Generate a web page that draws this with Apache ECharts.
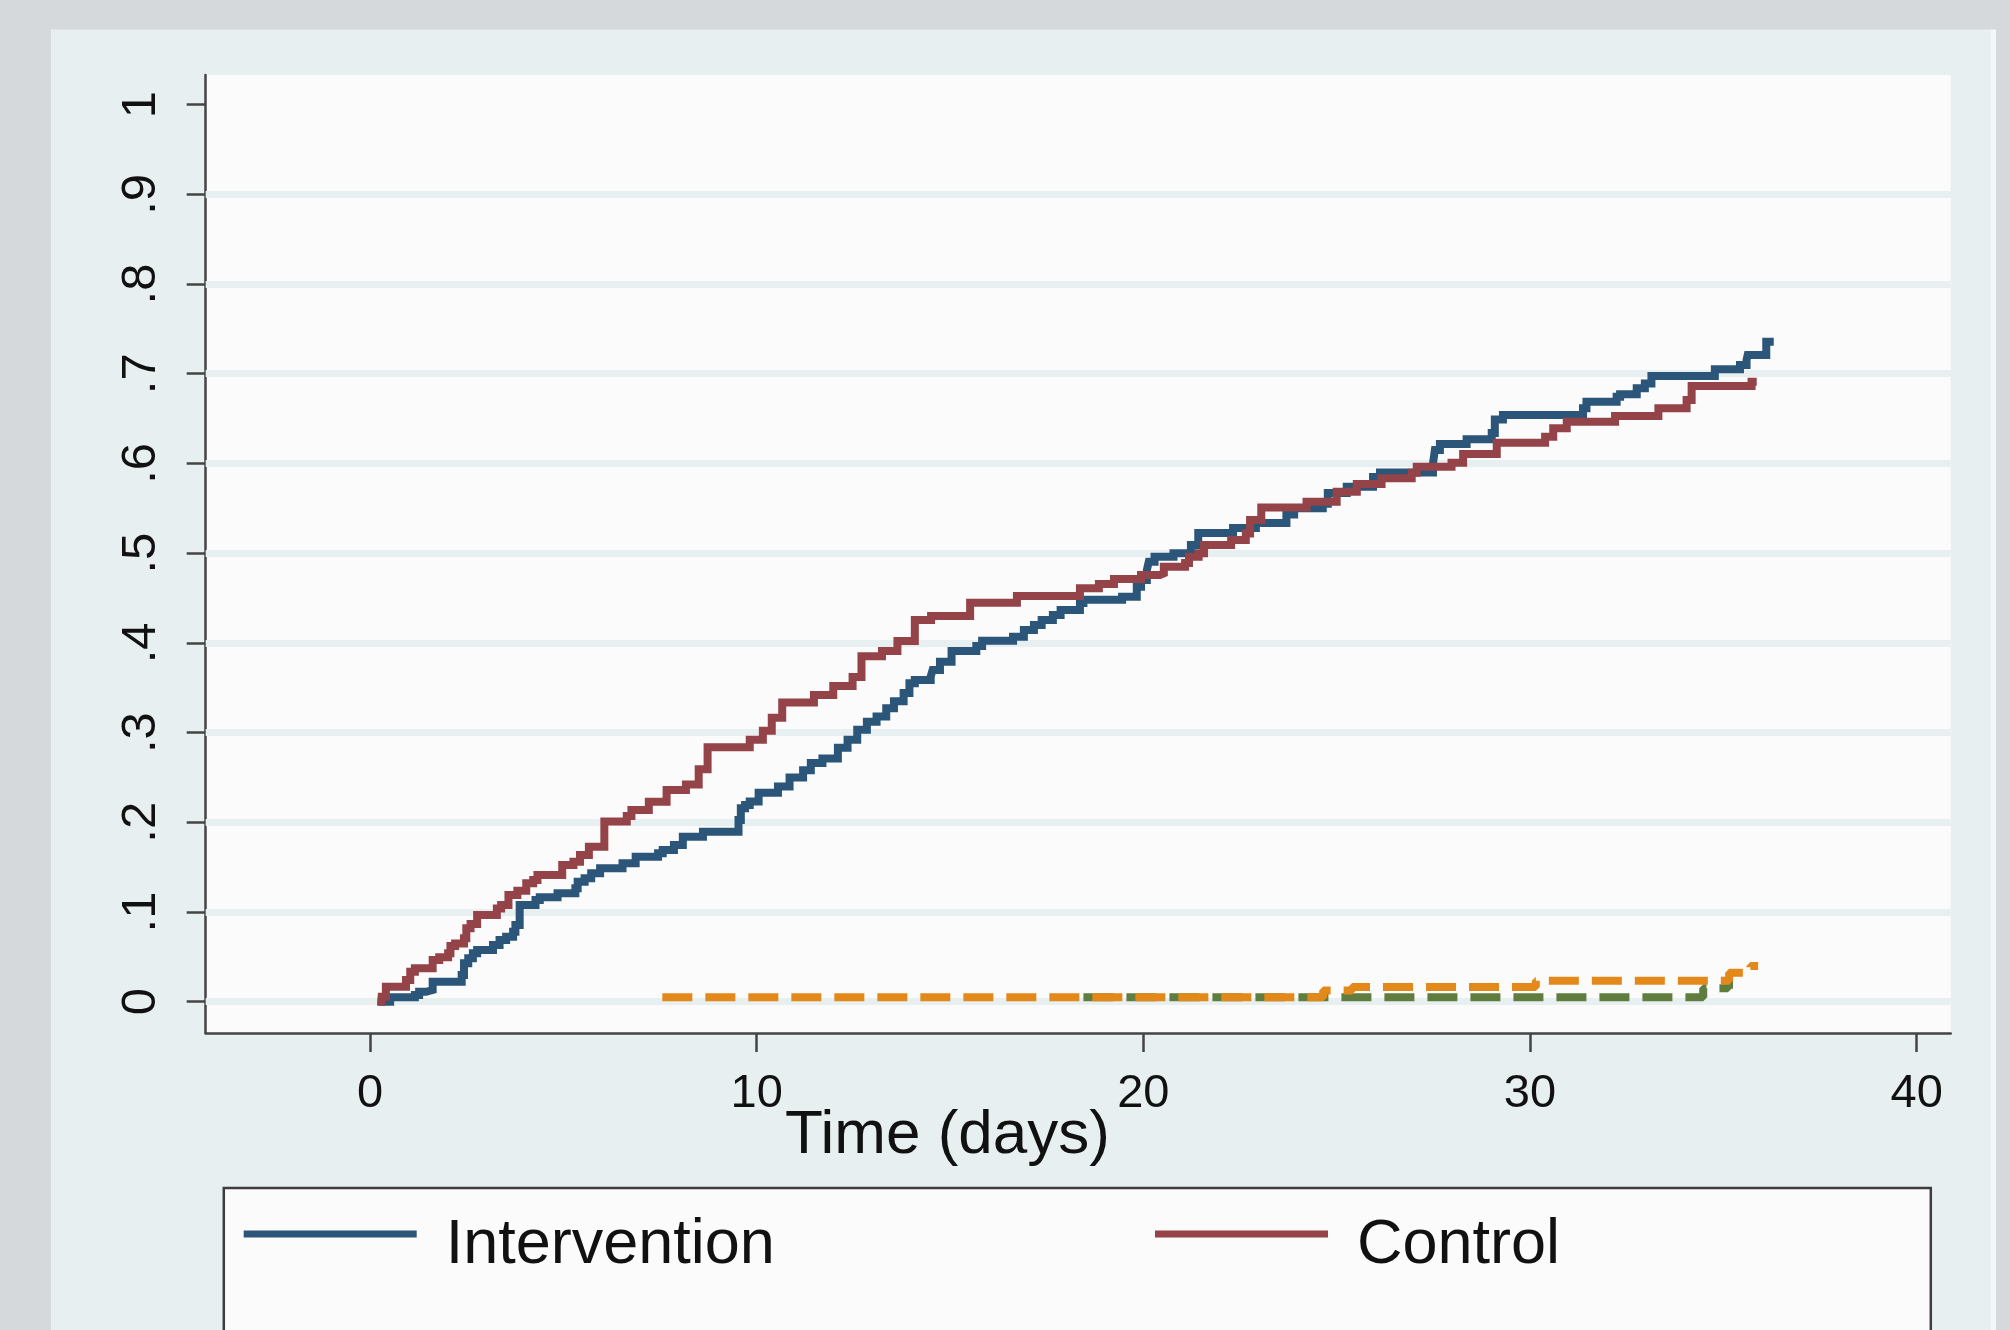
<!DOCTYPE html>
<html>
<head>
<meta charset="utf-8">
<script src="https://cdn.jsdelivr.net/npm/echarts@6/dist/echarts.min.js"></script>
<style>
html,body{margin:0;padding:0;background:#d5d9dc;}
#chart{width:2010px;height:1330px;}
</style>
</head>
<body>
<div id="chart"></div>
<script>
// ---- tick labels ----
const xTicks = [0, 10, 20, 30, 40];
const yTicks = [0, 0.1, 0.2, 0.3, 0.4, 0.5, 0.6, 0.7, 0.8, 0.9, 1];
const gridValues = [0, 0.1, 0.2, 0.3, 0.4, 0.5, 0.6, 0.7, 0.8, 0.9];

// ---- Intervention (step points: time, cumulative incidence) ----
const interventionTime = [0.30, 0.52, 1.16, 1.27, 1.45, 1.62, 2.37, 2.43, 2.54, 2.66, 2.77, 3.18, 3.35, 3.52, 3.70, 3.76, 3.87, 4.28, 4.39, 4.85, 5.31, 5.37, 5.55, 5.72, 5.95, 6.53, 6.87, 7.45, 7.57, 7.86, 8.09, 8.61, 9.53, 9.59, 9.70, 9.82, 10.05, 10.55, 10.85, 11.20, 11.40, 11.70, 12.10, 12.35, 12.60, 12.85, 13.10, 13.35, 13.55, 13.80, 13.95, 14.09, 14.50, 14.55, 14.74, 15.04, 15.68, 15.83, 16.63, 16.91, 17.17, 17.37, 17.66, 17.86, 18.36, 18.45, 19.45, 19.83, 19.94, 20.09, 20.14, 20.29, 20.78, 21.23, 21.42, 22.32, 22.91, 23.70, 23.90, 24.64, 24.77, 25.26, 25.94, 26.12, 27.49, 27.54, 27.67, 28.36, 29.01, 29.09, 29.30, 31.37, 31.46, 32.24, 32.33, 32.76, 32.97, 33.14, 34.78, 35.43, 35.60, 35.63, 36.11, 36.20];
const interventionRisk = [0, 0.005, 0.0075, 0.011, 0.013, 0.0223, 0.0298, 0.0428, 0.0484, 0.054, 0.0576, 0.0632, 0.0688, 0.0725, 0.078, 0.0855, 0.1078, 0.1134, 0.1164, 0.1208, 0.1264, 0.1337, 0.1375, 0.1431, 0.1487, 0.1543, 0.1617, 0.1655, 0.1692, 0.1747, 0.1839, 0.1895, 0.2025, 0.2156, 0.2193, 0.2231, 0.233, 0.240, 0.250, 0.258, 0.266, 0.271, 0.283, 0.292, 0.303, 0.312, 0.318, 0.327, 0.335, 0.344, 0.355, 0.3586, 0.3623, 0.3698, 0.379, 0.391, 0.3965, 0.4024, 0.4069, 0.4143, 0.42, 0.4255, 0.431, 0.4367, 0.4445, 0.448, 0.4515, 0.4626, 0.47, 0.481, 0.4905, 0.496, 0.500, 0.509, 0.5225, 0.528, 0.5335, 0.543, 0.550, 0.555, 0.567, 0.574, 0.585, 0.590, 0.600, 0.615, 0.6217, 0.627, 0.634, 0.649, 0.654, 0.6614, 0.6688, 0.6744, 0.677, 0.6837, 0.689, 0.6975, 0.705, 0.7097, 0.7153, 0.721, 0.7357, 0.7357];

// ---- Control ----
const controlTime = [0.29, 0.30, 0.41, 0.93, 1.04, 1.16, 1.62, 1.79, 2.02, 2.08, 2.20, 2.43, 2.49, 2.60, 2.77, 3.28, 3.39, 3.58, 3.81, 4.04, 4.22, 4.33, 4.97, 5.26, 5.43, 5.66, 6.06, 6.64, 6.76, 7.21, 7.67, 8.17, 8.50, 8.73, 9.82, 10.16, 10.39, 10.66, 11.48, 11.98, 12.48, 12.71, 13.24, 13.64, 14.09, 14.51, 15.52, 16.73, 18.36, 18.85, 19.24, 19.94, 20.43, 20.53, 21.08, 21.18, 21.43, 21.57, 22.27, 22.65, 22.76, 23.05, 24.22, 25.00, 25.52, 26.16, 26.94, 27.07, 27.97, 28.27, 29.14, 30.39, 30.60, 30.95, 32.20, 33.32, 34.05, 34.18, 35.73, 35.76];
const controlRisk = [0, 0.0056, 0.0167, 0.0242, 0.0334, 0.0372, 0.0465, 0.0495, 0.054, 0.062, 0.065, 0.0707, 0.0818, 0.0866, 0.0966, 0.104, 0.1078, 0.119, 0.1237, 0.132, 0.1357, 0.1412, 0.1524, 0.156, 0.1635, 0.1728, 0.201, 0.207, 0.2137, 0.223, 0.236, 0.242, 0.259, 0.2835, 0.292, 0.302, 0.3164, 0.3335, 0.342, 0.352, 0.362, 0.385, 0.391, 0.402, 0.4255, 0.430, 0.4448, 0.4522, 0.4608, 0.4656, 0.4712, 0.4757, 0.4775, 0.4849, 0.489, 0.496, 0.500, 0.509, 0.5146, 0.522, 0.537, 0.551, 0.5574, 0.5685, 0.577, 0.5834, 0.5897, 0.5964, 0.6008, 0.6105, 0.6231, 0.6298, 0.6392, 0.6465, 0.6529, 0.6614, 0.6707, 0.6863, 0.6911, 0.6911];

// ---- dashed curves (not in visible legend) ----
const orangeTime = [7.56, 24.65, 25.40, 30.15, 35.15, 35.70, 35.90];
const orangeRisk = [0.005, 0.0125, 0.0165, 0.0234, 0.0323, 0.0398, 0.0398];
const greenTime = [18.45, 34.48, 35.12, 35.25];
const greenRisk = [0.005, 0.015, 0.019, 0.019];

const zip = (t, v) => t.map((x, i) => [x, v[i]]);
const FONT = '"Liberation Sans", Arial, sans-serif';

const legendText = { fontSize: 63, fontFamily: FONT, color: '#111',
  rich: { t: { fontSize: 63, fontFamily: FONT, color: '#111', padding: [24, 0, 0, 24] } } };

const chart = echarts.init(document.getElementById('chart'));
chart.setOption({
  animation: false,
  backgroundColor: '#d5d9dc',
  graphic: { elements: [
    { type: 'rect', z: -10, shape: { x: 51, y: 29.5, width: 1940, height: 1340 }, style: { fill: '#e8eff1' } },
    { type: 'rect', z: -10, shape: { x: 1991, y: 29.5, width: 5, height: 1340 }, style: { fill: '#f5f7f8' } },
    { type: 'rect', z: 1, shape: { x: 223.8, y: 1188, width: 1707, height: 200 }, style: { fill: '#fbfbfb', stroke: '#3d3d3d', lineWidth: 2.5 } },
    { type: 'text', z: 5, x: 947.5, y: 1136, style: { text: 'Time (days)', font: '62px ' + FONT, fill: '#111', align: 'center', verticalAlign: 'middle' } }
  ]},
  grid: { left: 205.7, top: 75, right: 59.3, bottom: 297, show: true, backgroundColor: '#fbfbfb', borderWidth: 0 },
  legend: [
    { data: ['Intervention'], left: 243.7, top: 1214.5, padding: 0, icon: 'rect', itemWidth: 173, itemHeight: 7, selectedMode: false,
      formatter: n => '{t|' + n + '}', textStyle: legendText },
    { data: ['Control'], left: 1155, top: 1214.5, padding: 0, icon: 'rect', itemWidth: 173, itemHeight: 7, selectedMode: false,
      formatter: n => '{t|' + n + '}', textStyle: legendText }
  ],
  xAxis: {
    type: 'value', min: -4.25, max: 40.88,
    axisLine: { show: true, onZero: false, lineStyle: { color: '#444', width: 2.5 } },
    axisTick: { show: true, customValues: xTicks, length: 19, lineStyle: { color: '#444', width: 2.5 } },
    axisLabel: { customValues: xTicks, fontSize: 47, fontFamily: FONT, color: '#111', margin: 38, lineHeight: 47 },
    splitLine: { show: false }
  },
  yAxis: {
    type: 'value', min: -0.0349, max: 1.033,
    axisLine: { show: true, onZero: false, lineStyle: { color: '#444', width: 2.5 } },
    axisTick: { show: true, customValues: yTicks, length: 19, lineStyle: { color: '#444', width: 2.5 } },
    axisLabel: { customValues: yTicks, rotate: 90, fontSize: 49, fontFamily: FONT, color: '#111', margin: 40, lineHeight: 49,
      formatter: v => v === 0 ? '0' : (v >= 1 ? '1' : '.' + Math.round(v * 10)) },
    splitLine: { show: false }
  },
  series: [
    { name: 'grid', type: 'line', data: [], z: 1, silent: true,
      markLine: { z: 1, silent: true, symbol: 'none', label: { show: false }, animation: false,
        lineStyle: { color: '#e8eff1', width: 7, type: 'solid' },
        data: gridValues.map(v => ({ yAxis: v })) } },
    { name: 'Intervention', type: 'line', step: 'end', data: zip(interventionTime, interventionRisk), z: 6,
      showSymbol: false, symbol: 'none', color: '#2b5679', lineStyle: { color: '#2b5679', width: 8, cap: 'square', join: 'miter' } },
    { name: 'Control', type: 'line', step: 'end', data: zip(controlTime, controlRisk), z: 7,
      showSymbol: false, symbol: 'none', color: '#944449', lineStyle: { color: '#944449', width: 8, cap: 'square', join: 'miter' } },
    { name: 'Death, intervention', type: 'line', step: 'end', data: zip(greenTime, greenRisk), z: 3,
      showSymbol: false, symbol: 'none', color: '#5f7d3e', lineStyle: { color: '#5f7d3e', width: 8, type: [30, 13] } },
    { name: 'Death, control', type: 'line', step: 'end', data: zip(orangeTime, orangeRisk), z: 4,
      showSymbol: false, symbol: 'none', color: '#e3891a', lineStyle: { color: '#e3891a', width: 8, type: [30, 13] } }
  ]
});
</script>
</body>
</html>
